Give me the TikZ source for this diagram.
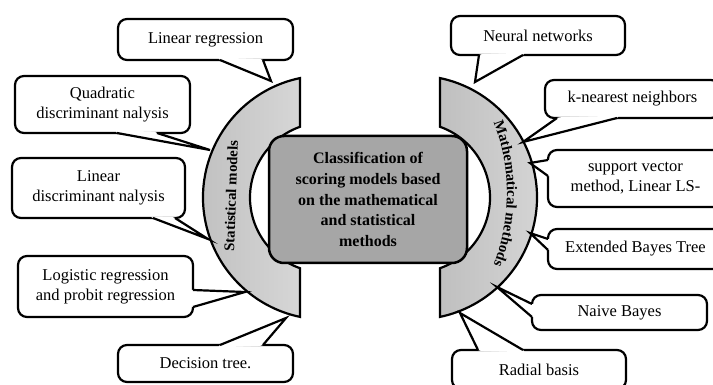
\documentclass[tikz,border=0pt]{standalone}
\usepackage{fontspec}
\setmainfont{Liberation Serif}
\usetikzlibrary{calc,decorations.text}

% pointer of a callout: box, anchor, two offsets of the base, tip
\newcommand{\calltail}[5]{%
  \coordinate (ta) at ($(#1.#2)+(#3)$);
  \coordinate (tb) at ($(#1.#2)+(#4)$);
  \fill[white] (ta) -- (#5) -- (tb) -- ($(tb)!3pt!(#1.center)$) -- ($(ta)!3pt!(#1.center)$) -- cycle;
  \draw[tailline] (ta) -- (#5) -- (tb);
}

\begin{document}
\begin{tikzpicture}[x=1pt,y=1pt,
  ring/.style={draw,line width=2.2pt,left color=black!25,right color=black!16},
  hub/.style={draw,line width=2.5pt,rounded corners=15pt,fill=black!35,align=center,
    minimum width=198pt,minimum height=127pt,font=\bfseries\fontsize{16}{20.7}\selectfont},
  note/.style={draw,line width=2.2pt,rounded corners=9pt,fill=white,align=center,
    outer sep=0pt,inner sep=2pt,font=\fontsize{16.5}{20}\selectfont},
  tailline/.style={line width=2.2pt},
  ringlabel/.style={font=\bfseries\fontsize{14.8}{17}\selectfont},
  arclabel/.style={decorate,decoration={text along path,text align=center,
    text={|\bfseries\fontsize{14.8}{17}\selectfont|#1}}}
]
\useasboundingbox (0,0) rectangle (713,-385);
\clip (0,0) rectangle (713,-385);

% ---- the two block arcs ----
\coordinate (Lc) at (325,-197.5);
\coordinate (Rc) at (415,-197.5);
\draw[ring] ($(Lc)+(101.8:122)$) arc[start angle=101.8,end angle=258.2,radius=122]
  -- ($(Lc)+(250.5:75)$) arc[start angle=250.5,end angle=109.5,radius=75] -- cycle;
\draw[ring] ($(Rc)+(78.2:122)$) arc[start angle=78.2,end angle=-78.2,radius=122]
  -- ($(Rc)+(-70.5:75)$) arc[start angle=-70.5,end angle=70.5,radius=75] -- cycle;
\node[ringlabel,rotate=88] (statlab) at (231,-196) {Statistical models};
\coordinate (Mc) at (313,-193.5);
\path[arclabel=Mathematical methods] ($(Mc)+(25:194)$) arc[start angle=25,end angle=-25,radius=194];

% ---- centre ----
\node[hub] (core) at (368,-199.5) {Classification of\\scoring models based\\on the mathematical\\and statistical\\methods};

% ---- statistical models (left) ----
\node[note,minimum width=175pt,minimum height=41pt] (linreg) at (205.5,-39.5) {Linear regression};
\coordinate (tip-linreg) at (271,-81);
\calltail{linreg}{south west}{102,0}{145,0}{tip-linreg}

\node[note,minimum width=175pt,minimum height=57pt] (qda) at (102.5,-104.5) {Quadratic\\discriminant nalysis};
\coordinate (tip-qda) at (210,-150);
\calltail{qda}{south west}{102,0}{142,0}{tip-qda}

\node[note,minimum width=173pt,minimum height=60pt] (lda) at (98.5,-188) {Linear\\discriminant nalysis};
\coordinate (tip-lda) at (208,-239);
\calltail{lda}{south west}{141,0}{163,0}{tip-lda}

\node[note,minimum width=175pt,minimum height=61pt] (logit) at (105.5,-286.5) {Logistic regression\\and probit regression};
\coordinate (tip-logit) at (245,-292);
\calltail{logit}{south east}{0,27}{0,10}{tip-logit}

\node[note,minimum width=175pt,minimum height=37pt] (dtree) at (205.5,-363.5) {Decision tree.};
\coordinate (tip-dtree) at (286,-318);
\calltail{dtree}{north west}{102,0}{145,0}{tip-dtree}

% ---- mathematical methods (right) ----
\node[note,minimum width=174pt,minimum height=39pt] (neural) at (538,-35.5) {Neural networks};
\coordinate (tip-neural) at (475,-82);
\calltail{neural}{south west}{28,0}{72,0}{tip-neural}

\node[note,minimum width=175pt,minimum height=38pt] (knn) at (632.5,-99) {k-nearest neighbors};
\coordinate (tip-knn) at (523,-142);
\calltail{knn}{south west}{12,0}{72,0}{tip-knn}

\node[note,minimum width=175pt,minimum height=57pt] (svm) at (635.5,-178.5) {support vector\\method, Linear LS-};
\coordinate (tip-svm) at (530,-163);
\calltail{svm}{north west}{0,-10}{0,-26}{tip-svm}

\node[note,minimum width=175pt,minimum height=40pt] (ebt) at (635.5,-249) {Extended Bayes Tree};
\coordinate (tip-ebt) at (530,-233);
\calltail{ebt}{north west}{0,-10}{0,-21}{tip-ebt}

\node[note,minimum width=175pt,minimum height=35pt] (bayes) at (619.5,-312.5) {Naive Bayes};
\coordinate (tip-bayes) at (497,-287);
\calltail{bayes}{north west}{0,-9}{0,-22}{tip-bayes}

\node[note,minimum width=174pt,minimum height=39pt] (radial) at (539,-369.5) {Radial basis};
\coordinate (tip-radial) at (460,-313);
\calltail{radial}{north west}{26,0}{71,0}{tip-radial}
\end{tikzpicture}
\end{document}
